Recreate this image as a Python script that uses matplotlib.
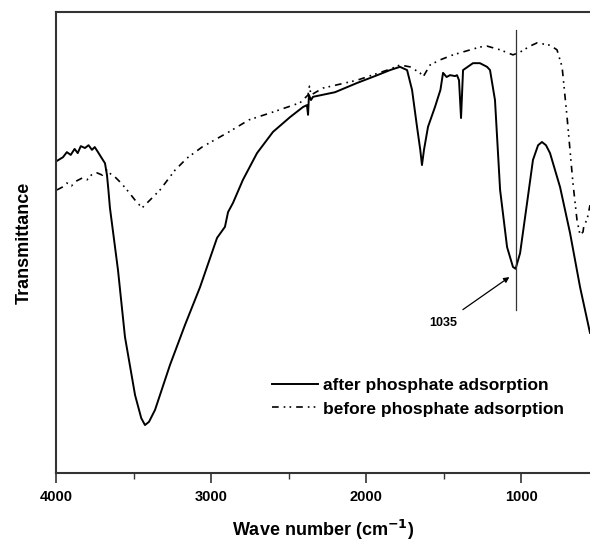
import matplotlib
matplotlib.use("Agg")
import matplotlib.pyplot as plt

plt.rcParams['font.family'] = ['Liberation Sans', 'DejaVu Sans']

# after phosphate adsorption (wave number, transmittance a.u.)
after_wave = [3994, 3955, 3930, 3905, 3880, 3860, 3840, 3813, 3790, 3768, 3750, 3729,
              3705, 3684, 3671, 3662, 3652, 3600, 3555, 3490, 3450, 3426, 3400, 3361,
              3265, 3168, 3071, 2961, 2910, 2890, 2858, 2794, 2703, 2600, 2490, 2406,
              2381, 2374, 2368, 2355, 2342, 2200, 2058, 1942, 1845, 1781, 1735, 1703,
              1671, 1650, 1639, 1626, 1600, 1555, 1520, 1503, 1480, 1458, 1425, 1413,
              1400, 1387, 1374, 1310, 1265, 1219, 1200, 1168, 1135, 1090, 1052, 1035,
              1006, 961, 923, 890, 865, 839, 813, 748, 684, 619, 555]
after_T = [67.7, 68.5, 69.6, 69.0, 70.3, 69.4, 70.9, 70.5, 71.1, 70.1, 70.7, 69.6,
           68.3, 67.2, 64.6, 61.4, 57.5, 44.0, 29.5, 16.9, 11.9, 10.4, 11.1, 13.7,
           23.4, 32.1, 40.3, 51.0, 53.4, 56.6, 58.6, 63.6, 69.4, 74.0, 77.2, 79.4,
           79.8, 77.7, 82.0, 80.9, 81.6, 82.6, 84.6, 86.1, 87.4, 88.1, 87.4, 83.1,
           75.1, 70.1, 66.8, 70.1, 75.1, 79.4, 83.1, 86.8, 85.9, 86.3, 86.1, 86.3,
           85.2, 77.0, 87.4, 88.9, 88.9, 88.1, 87.4, 80.9, 61.4, 49.0, 44.7, 44.3,
           47.7, 58.6, 67.9, 71.1, 71.8, 71.1, 69.4, 62.0, 52.1, 40.3, 30.4]

# before phosphate adsorption
before_wave = [3994, 3960, 3930, 3900, 3865, 3830, 3800, 3765, 3735, 3700, 3671, 3640,
               3619, 3580, 3542, 3490, 3445, 3394, 3329, 3232, 3155, 3058, 2884, 2755,
               2600, 2426, 2374, 2365, 2355, 2277, 2058, 1845, 1781, 1716, 1652, 1632,
               1587, 1523, 1439, 1265, 1219, 1135, 1052, 1006, 942, 897, 813, 768,
               735, 703, 665, 639, 619, 600, 594, 574, 555]
before_T = [61.4, 62.0, 62.9, 62.3, 63.4, 64.0, 63.6, 64.9, 65.1, 64.6, 65.7, 64.6,
            64.2, 62.9, 61.4, 59.2, 57.5, 59.2, 61.4, 65.7, 68.3, 70.7, 74.0, 76.6,
            78.3, 80.3, 82.0, 83.9, 82.0, 83.5, 85.2, 87.6, 88.5, 88.1, 86.8, 85.9,
            88.5, 89.6, 90.7, 92.4, 92.6, 91.8, 90.7, 91.3, 92.6, 93.3, 92.8, 91.8,
            88.1, 77.2, 62.9, 54.9, 51.6, 52.3, 53.8, 54.9, 58.1]

marker_wave = 1035
marker_range = [35.4, 96.1]
xticks_major = [4000, 3000, 2000, 1000]
xticks_minor = [3500, 2500, 1500]

fig = plt.figure(figsize=(5.9, 5.47), dpi=100)
ax = fig.add_axes([56/590, 74/547, 1 - 56/590, 461/547])

ax.plot(after_wave, after_T, color='black', lw=1.4, label='after phosphate adsorption')
ax.plot(before_wave, before_T, color='black', lw=1.2,
        linestyle=(0, (4, 3, 1, 2.5, 1, 3)), label='before phosphate adsorption')
ax.plot([marker_wave, marker_wave], marker_range, color='#333333', lw=0.9)

ax.annotate('1035', xy=(1075, 42.5), xytext=(1500, 32.5), textcoords='data',
            fontsize=9, fontweight='bold', ha='center', va='center',
            arrowprops=dict(arrowstyle='-|>', color='black', lw=0.9,
                            mutation_scale=8, shrinkA=6, shrinkB=0))

ax.set_xlim(4000, 555)
ax.set_ylim(0, 100)
ax.set_xticks(xticks_major)
ax.set_xticks(xticks_minor, minor=True)
ax.set_yticks([])
ax.tick_params(axis='x', which='major', length=7, width=1.2, direction='out',
               labelsize=10.5, pad=5, color='#333333')
ax.tick_params(axis='x', which='minor', length=4, width=1.0, direction='out',
               color='#333333')
for lab in ax.get_xticklabels():
    lab.set_fontweight('bold')

for side in ['left', 'bottom', 'top']:
    ax.spines[side].set_linewidth(1.5)
    ax.spines[side].set_color('#333333')
ax.spines['right'].set_visible(False)

ax.set_xlabel('Wave number (cm$^{\\mathbf{-1}}$)', fontsize=13, fontweight='bold',
              labelpad=10)
ax.set_ylabel('Transmittance', fontsize=13, fontweight='bold', labelpad=17)

leg = ax.legend(loc='upper left', bbox_to_anchor=(216/534, 0.207), frameon=False,
                prop={'weight': 'bold', 'size': 12.5}, handlelength=2.65,
                handletextpad=0.3, labelspacing=0.5, borderaxespad=0,
                borderpad=0)

fig.savefig('out.png', dpi=100)
